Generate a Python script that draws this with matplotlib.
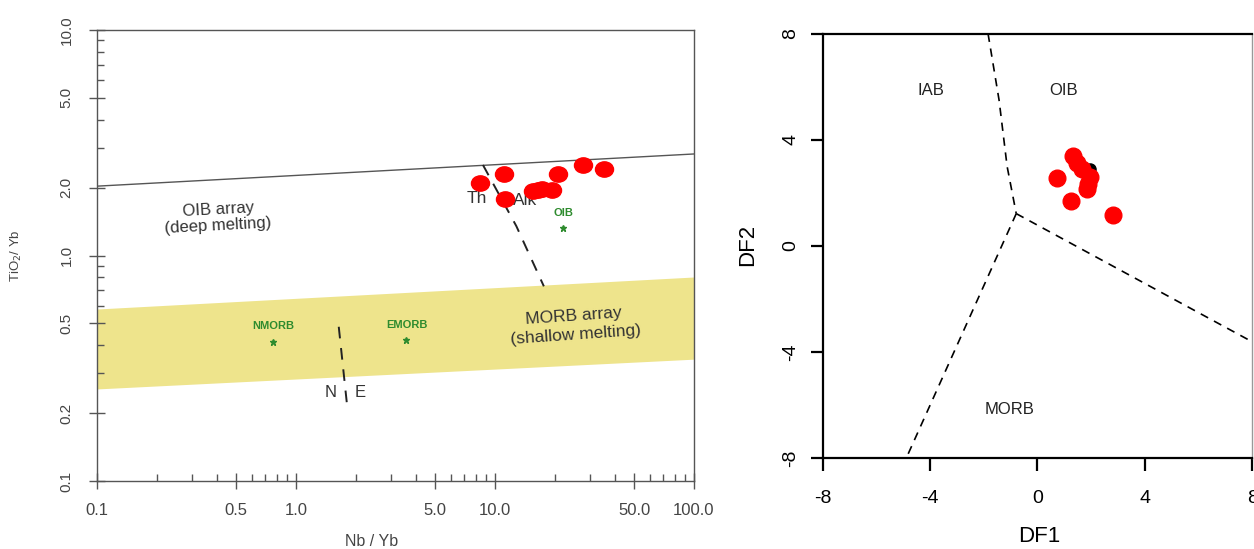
import matplotlib.pyplot as plt
from matplotlib.path import Path

plt.rcParams['font.family'] = ['Liberation Sans', 'DejaVu Sans']
plt.rcParams['axes.unicode_minus'] = False

# ---- left panel: TiO2/Yb vs Nb/Yb ----
nb_yb = [8.4, 11.1, 11.2, 15.6, 16.5, 17.2, 19.3, 20.8, 27.6, 35.3]
tio2_yb = [2.09, 2.31, 1.78, 1.93, 1.96, 1.97, 1.95, 2.29, 2.51, 2.42]

oib_x = [0.1, 100]
oib_y = [2.03, 2.82]
morb_x = [0.1, 100]
morb_top = [0.579, 0.803]
morb_bot = [0.256, 0.347]
thalk_x = [8.7, 12.8, 17.6]
thalk_y = [2.52, 1.35, 0.73]
ne_x = [1.64, 1.82]
ne_y = [0.483, 0.203]

ref_names = ['NMORB', 'EMORB', 'OIB']
ref_x = [0.77, 3.59, 22.0]
ref_y = [0.415, 0.422, 1.32]

x_major = [0.1, 0.5, 1, 5, 10, 50, 100]
x_labels = ['0.1', '0.5', '1.0', '5.0', '10.0', '50.0', '100.0']
x_minor = [0.2, 0.3, 0.4, 0.6, 0.7, 0.8, 0.9, 2, 3, 4, 6, 7, 8, 9,
           20, 30, 40, 60, 70, 80, 90]
y_major = [0.1, 0.2, 0.5, 1, 2, 5, 10]
y_labels = ['0.1', '0.2', '0.5', '1.0', '2.0', '5.0', '10.0']
y_minor = [0.3, 0.4, 0.6, 0.7, 0.8, 0.9, 3, 4, 6, 7, 8, 9]

# ---- right panel: DF1 vs DF2 ----
df1 = [1.31, 1.46, 1.65, 0.73, 1.96, 1.90, 1.84, 1.24, 2.80]
df2 = [3.38, 3.11, 2.92, 2.57, 2.60, 2.35, 2.13, 1.69, 1.16]
black_df1 = [1.95]
black_df2 = [2.92]

b_top_x = [-1.84, -1.43, -1.13, -0.79]
b_top_y = [8.0, 5.5, 3.0, 1.22]
b_left_x = [-0.79, -4.89]
b_left_y = [1.22, -8.0]
b_right_x = [-0.79, 8.0]
b_right_y = [1.22, -3.61]

fig = plt.figure(figsize=(12.54, 5.49), dpi=100)

# left axes
ax = fig.add_axes([97/1254, 1-481/549, 597/1254, 451/549])
ax.set_xscale('log')
ax.set_yscale('log')
ax.set_xlim(0.1, 100)
ax.set_ylim(0.1, 10)

ax.fill_between(morb_x, morb_bot, morb_top, color='#EEE48C', lw=0, zorder=1)
ax.plot(oib_x, oib_y, color='#555555', lw=1, zorder=2)
ax.plot(thalk_x, thalk_y, color='#222222', lw=1.4, dashes=(6, 5), zorder=2)
ax.plot(ne_x, ne_y, color='#222222', lw=1.4, dashes=(6, 5), zorder=2)

txtc = '#333333'
ax.text(0.405, 1.59, 'OIB array', ha='center', va='center', fontsize=12,
        rotation=3, color=txtc)
ax.text(0.405, 1.35, '(deep melting)', ha='center', va='center', fontsize=12,
        rotation=3, color=txtc)
ax.text(24.9, 0.539, 'MORB array', ha='center', va='center', fontsize=12.5,
        rotation=4, color=txtc)
ax.text(25.5, 0.444, '(shallow melting)', ha='center', va='center', fontsize=12.5,
        rotation=4, color=txtc)
ax.text(8.09, 1.79, 'Th', ha='center', va='center', fontsize=12.5, color=txtc)
ax.text(14.2, 1.76, 'Alk', ha='center', va='center', fontsize=12.5, color=txtc)
ax.text(1.50, 0.247, 'N', ha='center', va='center', fontsize=12, color=txtc)
ax.text(2.11, 0.247, 'E', ha='center', va='center', fontsize=12, color=txtc)

green = '#2E8B2E'
ax.plot(ref_x, ref_y, ls='none', marker='*', ms=5, color=green, zorder=3)
for name, xx, yy in zip(ref_names, ref_x, ref_y):
    ax.annotate(name, (xx, yy), xytext=(0, 11), textcoords='offset points',
                ha='center', va='center', fontsize=8, fontweight='bold',
                color=green)

circ = Path.unit_circle()
ellipse = Path(circ.vertices * [1.18, 1.0], circ.codes)
ax.plot(nb_yb, tio2_yb, ls='none', marker=ellipse, ms=13, color='red',
        mec='red', zorder=5)

ax.xaxis.set_major_locator(plt.FixedLocator(x_major))
ax.xaxis.set_major_formatter(plt.FixedFormatter(x_labels))
ax.xaxis.set_minor_locator(plt.FixedLocator(x_minor))
ax.xaxis.set_minor_formatter(plt.NullFormatter())
ax.yaxis.set_major_locator(plt.FixedLocator(y_major))
ax.yaxis.set_major_formatter(plt.FixedFormatter(y_labels))
ax.yaxis.set_minor_locator(plt.FixedLocator(y_minor))
ax.yaxis.set_minor_formatter(plt.NullFormatter())

for s in ax.spines.values():
    s.set_color('#555555')
    s.set_linewidth(1)
ax.tick_params(which='major', direction='inout', length=12, width=1,
               color='#555555', labelcolor='#444444')
ax.tick_params(which='minor', direction='in', length=5, width=1,
               color='#555555')
ax.tick_params(axis='x', which='major', labelsize=12, pad=10)
ax.tick_params(axis='y', which='major', labelsize=11, pad=11, labelrotation=90)
for lab in ax.get_yticklabels():
    lab.set_va('center')

ax.set_xlabel('Nb / Yb', fontsize=11.5, color='#444444')
ax.xaxis.set_label_coords(0.46, -0.117)
ax.set_ylabel('TiO$_2$/ Yb', fontsize=9.5, color='#444444')
ax.yaxis.set_label_coords(-0.122, 0.5)

# right axes
ax2 = fig.add_axes([822.7/1254, 1-458.3/549, 429.5/1254, 424.6/549])
ax2.set_xlim(-8, 8)
ax2.set_ylim(-8, 8)

ax2.plot(b_top_x, b_top_y, color='black', lw=1.2, dashes=(5, 4))
ax2.plot(b_left_x, b_left_y, color='black', lw=1.2, dashes=(5, 4))
ax2.plot(b_right_x, b_right_y, color='black', lw=1.2, dashes=(5, 4))

ax2.text(-3.97, 5.85, 'IAB', ha='center', va='center', fontsize=12, color='#222222')
ax2.text(0.97, 5.85, 'OIB', ha='center', va='center', fontsize=12, color='#222222')
ax2.text(-1.03, -6.16, 'MORB', ha='center', va='center', fontsize=12, color='#222222')

ax2.plot(black_df1, black_df2, ls='none', marker='o', ms=8, color='black', zorder=4)
ax2.plot(df1, df2, ls='none', marker='o', ms=12, color='red', zorder=5)

ax2.set_xticks([-8, -4, 0, 4, 8])
ax2.set_yticks([-8, -4, 0, 4, 8])
for side in ['left', 'bottom', 'top']:
    ax2.spines[side].set_linewidth(1.6)
ax2.spines['right'].set_linewidth(1)
ax2.spines['right'].set_color('#999999')
ax2.tick_params(direction='out', length=9, width=1.6, labelsize=14, colors='black')
ax2.tick_params(axis='x', pad=14)
ax2.tick_params(axis='y', pad=8, labelrotation=90)
for lab in ax2.get_yticklabels():
    lab.set_va('center')

ax2.set_xlabel('DF1', fontsize=16)
ax2.xaxis.set_label_coords(0.504, -0.16)
ax2.set_ylabel('DF2', fontsize=16)
ax2.yaxis.set_label_coords(-0.15, 0.502)

fig.savefig('out.png', dpi=100)
